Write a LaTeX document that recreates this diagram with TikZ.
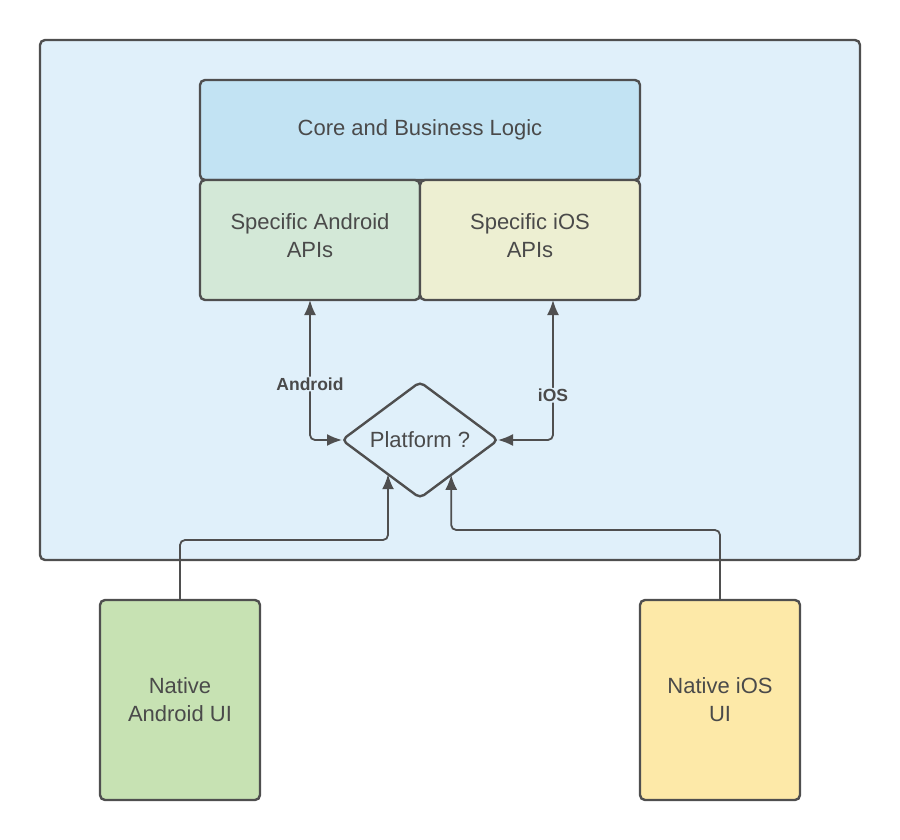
\documentclass[tikz,border=0pt]{standalone}
\usepackage{fontspec}
\setmainfont{Liberation Sans}
\usetikzlibrary{positioning}
\usetikzlibrary{calc}
\usetikzlibrary{shapes.geometric}
\usetikzlibrary{arrows.meta}

\definecolor{linegray}{HTML}{4F4F4F}
\definecolor{textgray}{HTML}{4A4A4A}
\definecolor{outerblue}{HTML}{E0F0FA}
\definecolor{coreblue}{HTML}{C2E3F3}
\definecolor{apigreen}{HTML}{D3E8D7}
\definecolor{apiyellow}{HTML}{EDEFD2}
\definecolor{uigreen}{HTML}{C7E2B3}
\definecolor{uiyellow}{HTML}{FDE9A8}

\begin{document}
\begin{tikzpicture}[x=1pt,y=-1pt,
    box/.style={draw=linegray,line width=2.4pt,rectangle,rounded corners=5pt,align=center,
                text=textgray,font=\fontsize{22}{28}\selectfont,inner sep=0pt,outer sep=0pt},
    link/.style={draw=linegray,line width=1.8pt,rounded corners=5pt},
    >={Latex[length=15pt,width=12pt]}]
          \useasboundingbox (0,0) rectangle (900,840);
          \node (outer) [box,fill=outerblue,minimum width=820pt,minimum height=520pt] at (450,300) {};
          \node (core) [box,fill=coreblue,minimum width=440pt,minimum height=100pt] at (420,130) {Core and Business Logic\\[-24pt]};
          \node (aapi) [box,fill=apigreen,minimum width=220pt,minimum height=120pt] at (310,240) {Specific Android\\APIs\\[-20pt]};
          \node (iapi) [box,fill=apiyellow,minimum width=220pt,minimum height=120pt] at (530,240) {Specific iOS\\APIs\\[-20pt]};
          \node (plat) [box,diamond,fill=outerblue,minimum width=156pt,minimum height=116pt,aspect=1.34] at (420,440) {Platform ?};
          \node (aui) [box,fill=uigreen,minimum width=160pt,minimum height=200pt] at (180,700) {Native\\Android UI};
          \node (iui) [box,fill=uiyellow,minimum width=160pt,minimum height=200pt] at (720,700) {Native iOS\\UI};
          % platform choice
          \draw [link,<->] (aapi.south) |- (plat.west)
                node [pos=0.3,fill=outerblue,text=textgray,inner sep=1pt,font=\fontsize{17.5}{20}\selectfont\bfseries] {Android};
          \draw [link,<->] ([xshift=23pt]iapi.south) |- (plat.east)
                node [pos=0.34,fill=outerblue,text=textgray,inner sep=1pt,font=\fontsize{17.5}{20}\selectfont\bfseries] {iOS};
          % native ui into platform
          \coordinate (aentry) at ($(plat.west)!0.59!(plat.south)$);
          \coordinate (ientry) at ($(plat.south)!0.40!(plat.east)$);
          \draw [link,->] (aui.north) -- ++(0,-60) -| (aentry);
          \draw [link,->] (iui.north) -- ++(0,-70) -| (ientry);
        \end{tikzpicture}
\end{document}
